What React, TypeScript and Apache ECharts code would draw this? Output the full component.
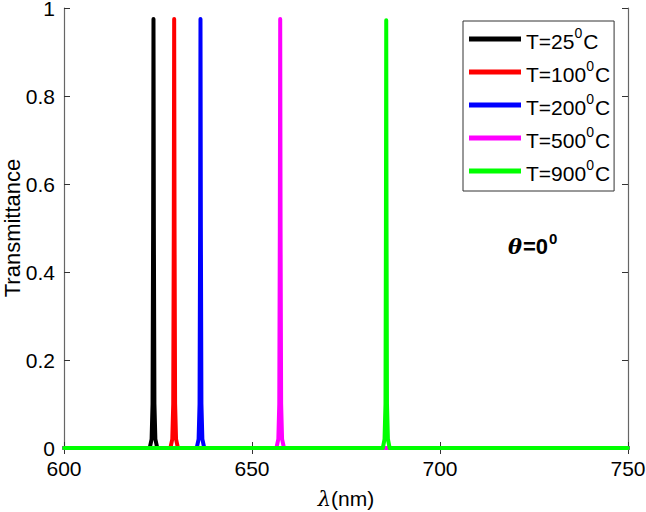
import React, { useEffect, useRef } from "react";
import * as echarts from "echarts";

const seriesNames = ["{n|T=25}{sup|0}{n|C}", "{n|T=100}{sup|0}{n|C}", "{n|T=200}{sup|0}{n|C}", "{n|T=500}{sup|0}{n|C}", "{n|T=900}{sup|0}{n|C}"];
const seriesColors = ["#000000", "#ff0000", "#0000ff", "#ff00ff", "#00ff00"];

const blackData: number[][] = [
  [600, 0], [622.8, 0], [623.3, 0.02], [623.55, 0.1], [623.7, 0.5], [623.8, 0.975],
  [623.9, 0.5], [624.05, 0.1], [624.3, 0.02], [624.8, 0], [750, 0],
];
const redData: number[][] = [
  [600, 0], [628.3, 0], [628.8, 0.02], [629.05, 0.1], [629.2, 0.5], [629.3, 0.975],
  [629.4, 0.5], [629.55, 0.1], [629.8, 0.02], [630.3, 0], [750, 0],
];
const blueData: number[][] = [
  [600, 0], [635.3, 0], [635.8, 0.02], [636.05, 0.1], [636.2, 0.5], [636.3, 0.975],
  [636.4, 0.5], [636.55, 0.1], [636.8, 0.02], [637.3, 0], [750, 0],
];
const magentaData: number[][] = [
  [600, 0], [656.5, 0], [657.0, 0.02], [657.25, 0.1], [657.4, 0.5], [657.5, 0.975],
  [657.6, 0.5], [657.75, 0.1], [658.0, 0.02], [658.5, 0], [750, 0],
];
const greenData: number[][] = [
  [600, 0], [684.8, 0], [685.25, 0.02], [685.5, 0.1], [685.62, 0.5], [685.7, 0.972],
  [685.78, 0.5], [685.9, 0.1], [686.15, 0.02], [686.6, 0], [750, 0],
];
const allData = [blackData, redData, blueData, magentaData, greenData];

const xTicks = { min: 600, max: 750, interval: 50 };
const yTicks = { min: 0, max: 1, interval: 0.2 };

const FONT = "'Liberation Sans', Arial, sans-serif";

export default function App() {
  const ref = useRef<HTMLDivElement>(null);
  useEffect(() => {
    if (!ref.current) return;
    const chart = echarts.init(ref.current, undefined, { renderer: "svg" });
    const axisLine = { show: true, lineStyle: { color: "#666666", width: 1.2 } };
    const axisTickIn = { show: true, inside: true, length: 6, lineStyle: { color: "#333333", width: 1 } };
    chart.setOption({
      animation: false,
      backgroundColor: "#ffffff",
      textStyle: { fontFamily: FONT },
      grid: { left: 64, right: 18, top: 8, bottom: 64, containLabel: false, outerBoundsMode: "none" },
      legend: {
        orient: "vertical",
        left: 463,
        top: 21,
        padding: [5, 4, 7, 6],
        backgroundColor: "#ffffff",
        borderColor: "#333333",
        borderWidth: 1,
        icon: "rect",
        itemWidth: 52,
        itemHeight: 5,
        itemGap: 7,
        textStyle: {
          fontFamily: FONT,
          fontSize: 21,
          color: "#000000",
          rich: {
            n: { fontFamily: FONT, fontSize: 21, color: "#000000", lineHeight: 26, verticalAlign: "bottom" },
            sup: { fontFamily: FONT, fontSize: 14, color: "#000000", lineHeight: 26, verticalAlign: "top", padding: [0, 1, 0, 0] },
          },
        },
        data: seriesNames,
      },
      xAxis: [
        {
          type: "value",
          ...xTicks,
          name: "{it|λ}{n|(nm)}",
          nameLocation: "middle",
          nameGap: 40,
          nameMoveOverlap: false,
          nameTextStyle: {
            fontFamily: FONT, fontSize: 21, color: "#000000",
            rich: {
              it: { fontFamily: "'DejaVu Serif', serif", fontStyle: "italic", fontSize: 21, color: "#000" },
              n: { fontFamily: FONT, fontSize: 21, color: "#000" },
            },
          },
          axisLine,
          axisTick: axisTickIn,
          axisLabel: { fontFamily: FONT, fontSize: 21, color: "#000000", margin: 12, lineHeight: 16 },
          splitLine: { show: false },
        },
        {
          type: "value",
          position: "top",
          ...xTicks,
          axisLine,
          axisTick: axisTickIn,
          axisLabel: { show: false },
          splitLine: { show: false },
        },
      ],
      yAxis: [
        {
          type: "value",
          ...yTicks,
          name: "Transmittance",
          nameLocation: "middle",
          nameGap: 41,
          nameMoveOverlap: false,
          nameTextStyle: { fontFamily: FONT, fontSize: 22, color: "#000000", lineHeight: 22 },
          axisLine,
          axisTick: axisTickIn,
          axisLabel: { fontFamily: FONT, fontSize: 21, color: "#000000", margin: 9, lineHeight: 16 },
          splitLine: { show: false },
        },
        {
          type: "value",
          position: "right",
          ...yTicks,
          axisLine,
          axisTick: axisTickIn,
          axisLabel: { show: false },
          splitLine: { show: false },
        },
      ],
      series: seriesNames.map((name, i) => ({
        name,
        type: "line",
        data: allData[i],
        showSymbol: false,
        symbol: "none",
        clip: false,
        color: seriesColors[i],
        lineStyle: { color: seriesColors[i], width: 4, cap: "round", join: "round" },
        z: 2 + i,
      })),
      graphic: [
        {
          type: "text",
          left: 508,
          top: 231,
          style: {
            text: "{it|θ}{b|=0}{sup|0}",
            rich: {
              it: { fontFamily: "'DejaVu Serif', serif", fontStyle: "italic", fontWeight: "bold", fontSize: 21, color: "#000", lineHeight: 26, verticalAlign: "bottom" },
              b: { fontFamily: FONT, fontWeight: "bold", fontSize: 22, color: "#000", lineHeight: 26, verticalAlign: "bottom", padding: [0, 1, 0, 1] },
              sup: { fontFamily: FONT, fontWeight: "bold", fontSize: 15, color: "#000", verticalAlign: "top", lineHeight: 26 },
            },
          },
        },
      ],
    });
    return () => chart.dispose();
  }, []);
  return <div ref={ref} style={{ position: "fixed", left: 0, top: 0, width: 646, height: 512 }} />;
}
